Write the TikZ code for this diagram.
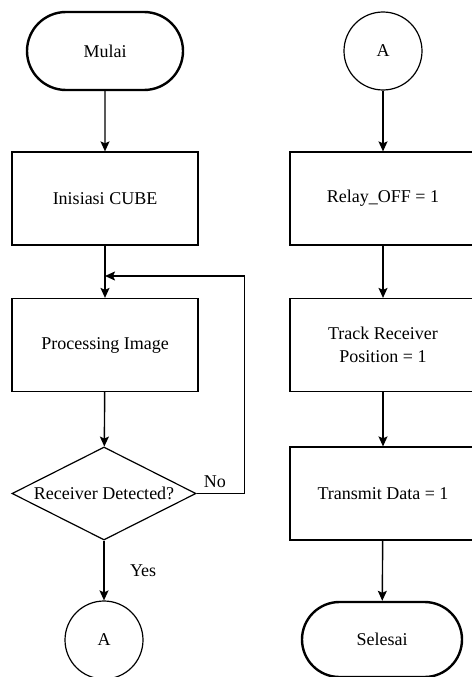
\documentclass[tikz,border=0pt]{standalone}
\usepackage{fontspec}
\setmainfont{Liberation Serif}
\usetikzlibrary{shapes.geometric,shapes.misc,arrows.meta}

\begin{document}
\begin{tikzpicture}[x=1pt,y=-1pt,
		font=\fontsize{18}{23}\selectfont,
		terminal/.style={draw, line width=2.4pt, rounded rectangle, inner sep=0pt},
		process/.style={draw, line width=1.2pt, rectangle, minimum width=186pt, minimum height=93pt, align=center, inner sep=0pt},
		decision/.style={draw, line width=1.2pt, diamond, aspect=2, minimum width=184pt, minimum height=93pt, inner sep=0pt},
		connector/.style={draw, line width=1.2pt, circle, minimum size=78pt, inner sep=0pt},
		line/.style={draw, line width=1.4pt, -{Stealth[length=10pt,width=9pt,inset=2pt]}}]
		\useasboundingbox (0,0) rectangle (471,677);
		
		% kolom kiri
		\node[terminal, minimum width=156pt, minimum height=78pt] (mulai) at (105,51) {Mulai};
		\node[process] (inisiasi) at (105,198.5) {Inisiasi CUBE};
		\node[process] (proses) at (105,345) {Processing Image};
		\node[decision] (deteksi) at (104,493.5) {Receiver Detected?};
		\node[connector] (konA) at (104,640) {A};
		\coordinate (balik) at (105,276);
		
		% kolom kanan
		\node[connector] (konB) at (383,51) {A};
		\node[process] (relay) at (383,198.5) {Relay\_OFF = 1};
		\node[process] (track) at (383,345) {Track Receiver\\Position = 1};
		\node[process] (kirim) at (383,493.5) {Transmit Data = 1};
		\node[terminal, minimum width=160pt, minimum height=75pt] (selesai) at (382,639.5) {Selesai};
		
		\path[line] (mulai) -- (inisiasi);
		\path[line] (inisiasi) -- (proses);
		\path[line] (proses) -- (deteksi);
		\path[line] (deteksi) -- node[right=22pt, pos=0.5] {Yes} (konA);
		\path[line] (deteksi.east) -- node[above=2pt, pos=0.38] {No} ++(48,0) |- (balik);
		
		\path[line] (konB) -- (relay);
		\path[line] (relay) -- (track);
		\path[line] (track) -- (kirim);
		\path[line] (kirim) -- (selesai);
\end{tikzpicture}
\end{document}
